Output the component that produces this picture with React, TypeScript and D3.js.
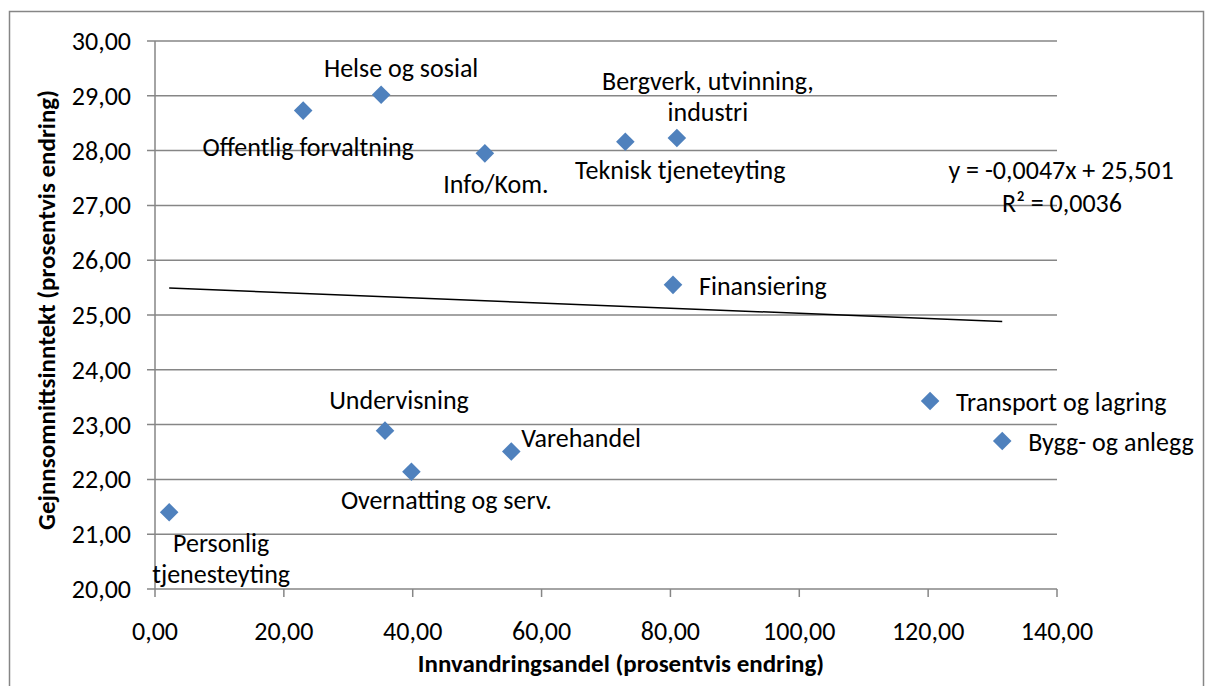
import React from "react";
import * as d3 from "d3";

const categories = [
  "Personlig tjenesteyting",
  "Offentlig forvaltning",
  "Helse og sosial",
  "Info/Kom.",
  "Teknisk tjeneteyting",
  "Bergverk, utvinning, industri",
  "Finansiering",
  "Undervisning",
  "Overnatting og serv.",
  "Varehandel",
  "Transport og lagring",
  "Bygg- og anlegg",
];
const xValues = [2.2, 23.0, 35.1, 51.2, 73.0, 81.0, 80.4, 35.7, 39.8, 55.3, 120.3, 131.5];
const yValues = [21.4, 28.73, 29.02, 27.95, 28.16, 28.23, 25.55, 22.89, 22.14, 22.51, 23.43, 22.70];
const labelLines = [
  ["Personlig", "tjenesteyting"],
  ["Offentlig forvaltning"],
  ["Helse og sosial"],
  ["Info/Kom."],
  ["Teknisk tjeneteyting"],
  ["Bergverk, utvinning,", "industri"],
  ["Finansiering"],
  ["Undervisning"],
  ["Overnatting og serv."],
  ["Varehandel"],
  ["Transport og lagring"],
  ["Bygg- og anlegg"],
];
// label placement relative to point (px), anchor
const labelPlacement: { dx: number; dy: number; anchor: string }[] = [
  { dx: 52, dy: 31, anchor: "middle" },
  { dx: 5, dy: 36, anchor: "middle" },
  { dx: 20, dy: -27, anchor: "middle" },
  { dx: 11, dy: 31, anchor: "middle" },
  { dx: 55, dy: 28, anchor: "middle" },
  { dx: 31, dy: -57, anchor: "middle" },
  { dx: 26, dy: 1, anchor: "start" },
  { dx: 14, dy: -31, anchor: "middle" },
  { dx: 35, dy: 28, anchor: "middle" },
  { dx: 10, dy: -13, anchor: "start" },
  { dx: 26, dy: 1, anchor: "start" },
  { dx: 26, dy: 1, anchor: "start" },
];
const xTicks = [0, 20, 40, 60, 80, 100, 120, 140];
const yTicks = [20, 21, 22, 23, 24, 25, 26, 27, 28, 29, 30];
const trendSlope = -0.0047;
const trendIntercept = 25.501;
const equationText = "y = -0,0047x + 25,501";
const r2Text = "R² = 0,0036";
const xTitle = "Innvandringsandel (prosentvis endring)";
const yTitle = "Gejnnsomnittsinntekt (prosentvis endring)";

const W = 1205;
const H = 686;
const FONT = "Calibri, Carlito, 'Open Sans', sans-serif";
const GRID = "#868686";
const MARK = "#4F81BD";
const FS = 26;
const TFS = 25;

export default function App() {
  const x = d3.scaleLinear().domain([0, 140]).range([155, 1057]);
  const y = d3.scaleLinear().domain([20, 30]).range([589, 41]);
  const fmt = (v: number) => d3.format(".2f")(v).replace(".", ",");
  const xMin = d3.min(xValues)!;
  const xMax = d3.max(xValues)!;
  const trend = d3.line<number>()
    .x((d) => x(d))
    .y((d) => y(trendSlope * d + trendIntercept));
  const diamond = d3.symbol().type(d3.symbolDiamond2).size(220)();
  const [x0, x1] = x.range();
  const [yb, yt] = y.range();
  const lh = 31;

  return (
    <svg
      width={W}
      height={H}
      style={{ position: "absolute", left: 0, top: 0, background: "#fff" }}
      fontFamily={FONT}
    >
      <rect x={9.5} y={11.5} width={1194} height={700} fill="#fff" stroke={GRID} strokeWidth={1.5} />
      {yTicks.map((t) => (
        <g key={"y" + t}>
          <line x1={x0 - 8} x2={x1} y1={y(t)} y2={y(t)} stroke={GRID} strokeWidth={1.5} />
          <text x={131} y={y(t)} textAnchor="end" dominantBaseline="central" fontSize={FS} fill="#000">
            {fmt(t)}
          </text>
        </g>
      ))}
      <line x1={x0} x2={x0} y1={yt} y2={yb} stroke={GRID} strokeWidth={1.5} />
      {xTicks.map((t) => (
        <g key={"x" + t}>
          <line x1={x(t)} x2={x(t)} y1={yb} y2={yb + 8} stroke={GRID} strokeWidth={1.5} />
          <text x={x(t)} y={yb + 42} textAnchor="middle" dominantBaseline="central" fontSize={FS} fill="#000">
            {fmt(t)}
          </text>
        </g>
      ))}
      <path d={trend([xMin, xMax]) || ""} stroke="#000" strokeWidth={1.5} fill="none" />
      {xValues.map((v, i) => (
        <path key={"p" + i} d={diamond || ""} transform={`translate(${x(v)},${y(yValues[i])})`} fill={MARK} />
      ))}
      {xValues.map((v, i) => {
        const p = labelPlacement[i];
        const lines = labelLines[i];
        return (
          <text
            key={"l" + i}
            textAnchor={p.anchor}
            fontSize={FS}
            fill="#000"
            dominantBaseline="central"
          >
            {lines.map((ln, j) => (
              <tspan key={j} x={x(v) + p.dx} y={y(yValues[i]) + p.dy + j * lh}>
                {ln}
              </tspan>
            ))}
          </text>
        );
      })}
      <text x={1061} y={170} textAnchor="middle" dominantBaseline="central" fontSize={FS}>
        {equationText}
      </text>
      <text x={1062} y={203} textAnchor="middle" dominantBaseline="central" fontSize={FS}>
        {r2Text}
      </text>
      <text x={621} y={663} textAnchor="middle" dominantBaseline="central" fontSize={TFS} fontWeight="bold">
        {xTitle}
      </text>
      <text
        transform="translate(46,310) rotate(-90)"
        textAnchor="middle"
        dominantBaseline="central"
        fontSize={TFS}
        fontWeight="bold"
      >
        {yTitle}
      </text>
    </svg>
  );
}
